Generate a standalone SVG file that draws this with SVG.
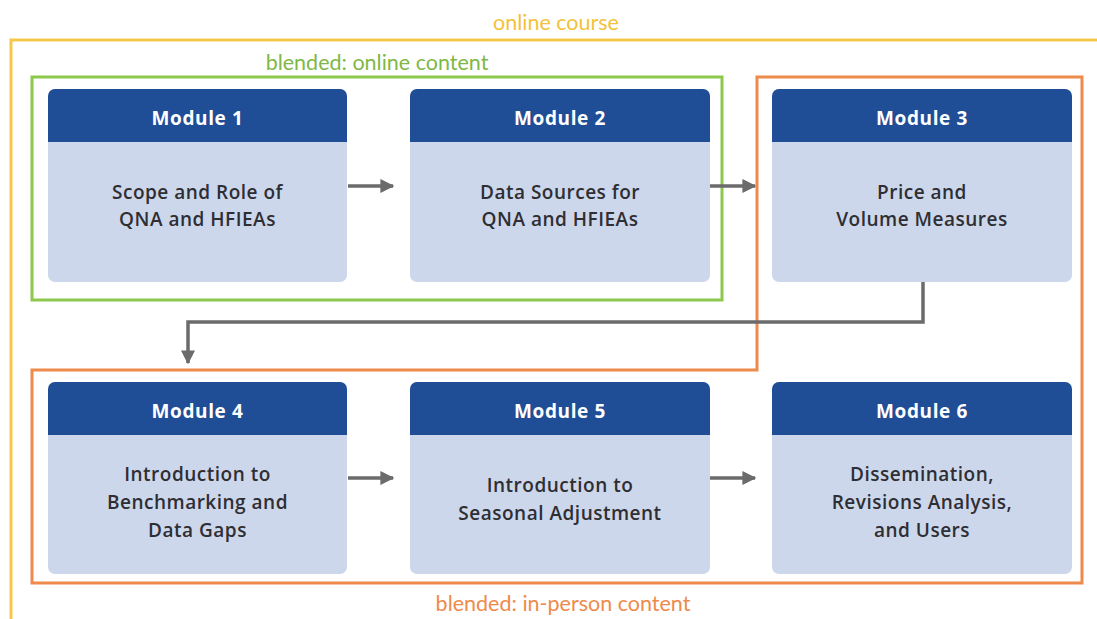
<svg xmlns="http://www.w3.org/2000/svg" width="1097" height="619" viewBox="0 0 1097 619">
<style>
.hdr{fill:#1f4e97}
.body{fill:#cdd7eb}
.ht{font-family:"Open Sans","Liberation Sans",sans-serif;font-weight:700;font-size:19px;letter-spacing:0.6px;fill:#ffffff;text-anchor:middle}
.bt{font-family:"Open Sans","Liberation Sans",sans-serif;font-weight:600;font-size:19px;letter-spacing:0.5px;fill:#2e2e33;text-anchor:middle}
.lbl{font-family:Lato,"Liberation Sans",sans-serif;font-size:21.5px;text-anchor:middle}
.conn{fill:none;stroke:#6b6b6b;stroke-width:3.5;marker-end:url(#ah)}
</style>
<defs>
<marker id="ah" markerWidth="4" markerHeight="4" refX="3.6" refY="2" orient="auto" markerUnits="strokeWidth">
<path d="M0,0 L4,2 L0,4 Z" fill="#6b6b6b"/>
</marker>
</defs>
<rect width="1097" height="619" fill="#ffffff"/>
<g id="containers">
<rect x="11" y="40" width="1100" height="600" fill="none" stroke="#f5c84a" stroke-width="3"/>
<text class="lbl" x="556" y="30" fill="#f2c23a">online course</text>
<rect x="32" y="77" width="690" height="223" fill="none" stroke="#8cc84b" stroke-width="3"/>
<text class="lbl" x="377" y="70" fill="#7fb845">blended: online content</text>
<path d="M757,77 H1082 V583 H32 V370 H757 Z" fill="none" stroke="#ee8a4a" stroke-width="3"/>
<text class="lbl" x="563" y="611" fill="#ee8a4a">blended: in-person content</text>
</g>
<g id="connectors">
<line class="conn" x1="348" y1="186" x2="393" y2="186"/>
<line class="conn" x1="710" y1="186" x2="755" y2="186"/>
<path class="conn" d="M923,282 V322 H188 V363"/>
<line class="conn" x1="348" y1="478" x2="393" y2="478"/>
<line class="conn" x1="710" y1="478" x2="755" y2="478"/>
</g>
<g id="module1">
<rect class="body" x="48" y="89" width="299" height="193" rx="7"/>
<path class="hdr" d="M48,142 V96 a7,7 0 0 1 7,-7 H340 a7,7 0 0 1 7,7 V142 Z"/>
<text class="ht" x="197.5" y="125">Module 1</text>
<text class="bt" x="197.5" y="199">Scope and Role of</text>
<text class="bt" x="197.5" y="226">QNA and HFIEAs</text>
</g>
<g id="module2">
<rect class="body" x="410" y="89" width="300" height="193" rx="7"/>
<path class="hdr" d="M410,142 V96 a7,7 0 0 1 7,-7 H703 a7,7 0 0 1 7,7 V142 Z"/>
<text class="ht" x="560" y="125">Module 2</text>
<text class="bt" x="560" y="199">Data Sources for</text>
<text class="bt" x="560" y="226">QNA and HFIEAs</text>
</g>
<g id="module3">
<rect class="body" x="772" y="89" width="300" height="193" rx="7"/>
<path class="hdr" d="M772,142 V96 a7,7 0 0 1 7,-7 H1065 a7,7 0 0 1 7,7 V142 Z"/>
<text class="ht" x="922" y="125">Module 3</text>
<text class="bt" x="922" y="199">Price and</text>
<text class="bt" x="922" y="226">Volume Measures</text>
</g>
<g id="module4">
<rect class="body" x="48" y="382" width="299" height="192" rx="7"/>
<path class="hdr" d="M48,435 V389 a7,7 0 0 1 7,-7 H340 a7,7 0 0 1 7,7 V435 Z"/>
<text class="ht" x="197.5" y="418">Module 4</text>
<text class="bt" x="197.5" y="481">Introduction to</text>
<text class="bt" x="197.5" y="509">Benchmarking and</text>
<text class="bt" x="197.5" y="537">Data Gaps</text>
</g>
<g id="module5">
<rect class="body" x="410" y="382" width="300" height="192" rx="7"/>
<path class="hdr" d="M410,435 V389 a7,7 0 0 1 7,-7 H703 a7,7 0 0 1 7,7 V435 Z"/>
<text class="ht" x="560" y="418">Module 5</text>
<text class="bt" x="560" y="492">Introduction to</text>
<text class="bt" x="560" y="520">Seasonal Adjustment</text>
</g>
<g id="module6">
<rect class="body" x="772" y="382" width="300" height="192" rx="7"/>
<path class="hdr" d="M772,435 V389 a7,7 0 0 1 7,-7 H1065 a7,7 0 0 1 7,7 V435 Z"/>
<text class="ht" x="922" y="418">Module 6</text>
<text class="bt" x="922" y="481">Dissemination,</text>
<text class="bt" x="922" y="509">Revisions Analysis,</text>
<text class="bt" x="922" y="537">and Users</text>
</g>
</svg>
